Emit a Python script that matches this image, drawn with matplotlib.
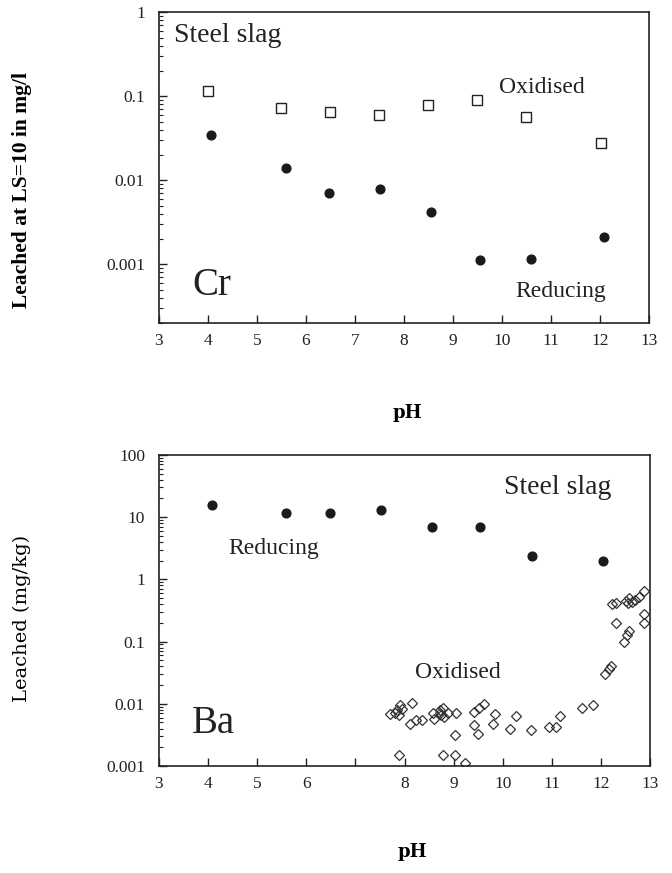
import matplotlib
matplotlib.use('Agg')
import matplotlib.pyplot as plt
import numpy as np
from matplotlib.ticker import LogLocator, NullFormatter

# Cr, steel slag
cr_ox_ph = [4.0, 5.5, 6.5, 7.5, 8.5, 9.5, 10.5, 12.03]
cr_ox = [0.116, 0.072, 0.065, 0.060, 0.079, 0.090, 0.056, 0.028]
cr_red_ph = [4.06, 5.6, 6.48, 7.52, 8.56, 9.56, 10.6, 12.09]
cr_red = [0.035, 0.0139, 0.0071, 0.0078, 0.0042, 0.00113, 0.00115, 0.0021]

# Ba, steel slag
ba_red_ph = [4.07, 5.58, 6.48, 7.51, 8.55, 9.54, 10.59, 12.04]
ba_red = [15.9, 11.6, 11.6, 12.9, 6.9, 6.9, 2.4, 1.95]
ba_ox_ph = [7.71, 7.8, 7.89, 7.91, 7.95, 7.85, 8.15, 8.11, 8.23, 8.35,
            8.57, 8.59, 8.73, 8.75, 8.8, 8.72, 8.78, 8.89, 9.04, 9.02,
            9.42, 9.52, 9.62, 9.42, 9.5, 9.84, 9.79, 10.15, 10.27, 10.57,
            10.93, 11.08, 11.16, 11.62, 11.84, 7.89, 8.79, 9.02, 9.22,
            12.08, 12.16, 12.2, 12.31, 12.46, 12.52, 12.56, 12.22, 12.3,
            12.5, 12.56, 12.55, 12.62, 12.68, 12.77, 12.88, 12.88, 12.88]
ba_ox = [0.0068, 0.0072, 0.0066, 0.0095, 0.0082, 0.0078, 0.0104, 0.0047, 0.0054, 0.0055,
         0.0072, 0.0057, 0.0079, 0.0066, 0.0062, 0.0072, 0.0085, 0.0072, 0.0072, 0.0032,
         0.0074, 0.0087, 0.0099, 0.0046, 0.0033, 0.0069, 0.0048, 0.0040, 0.0063, 0.0038,
         0.0042, 0.0042, 0.0063, 0.0085, 0.0095, 0.0015, 0.0015, 0.0015, 0.00113,
         0.030, 0.036, 0.040, 0.20, 0.10, 0.125, 0.145, 0.40, 0.42,
         0.45, 0.50, 0.42, 0.43, 0.47, 0.52, 0.65, 0.28, 0.20]

top_yticks = [0.001, 0.01, 0.1, 1]
top_ylabels = ['0.001', '0.01', '0.1', '1']
bot_yticks = [0.001, 0.01, 0.1, 1, 10, 100]
bot_ylabels = ['0.001', '0.01', '0.1', '1', '10', '100']
top_xticks = list(range(3, 14))
top_xlabels = [str(v) for v in top_xticks]
bot_xlabels = ['3', '4', '5', '6', '', '8', '9', '10', '11', '12', '13']

plt.rcParams['font.family'] = ['Liberation Serif', 'DejaVu Serif']


def style_axes(ax):
    ax.set_yscale('log')
    ax.set_xlim(3, 13)
    for s in ax.spines.values():
        s.set_linewidth(1.2)
        s.set_color('#222222')
    ax.tick_params(which='both', direction='in', top=False, right=False,
                   labelsize=12.5, colors='#222222')
    ax.tick_params(which='major', length=6, width=1)
    ax.tick_params(which='minor', length=3, width=0.8)
    ax.tick_params(axis='x', pad=7)
    ax.tick_params(axis='y', pad=10)
    ax.yaxis.set_minor_locator(LogLocator(base=10, subs=np.arange(2, 10)))
    ax.yaxis.set_minor_formatter(NullFormatter())


fig = plt.figure(figsize=(6.72, 8.73), dpi=100)

ax1 = fig.add_axes([0.2366, 0.630, 0.729, 0.356])
style_axes(ax1)
ax1.set_ylim(0.0002, 1)
ax1.plot(cr_ox_ph, cr_ox, 's', ms=6.5, mfc='white', mec='#222222', mew=1)
ax1.plot(cr_red_ph, cr_red, 'o', ms=6.3, color='#1a1a1a')
ax1.set_yticks(top_yticks)
ax1.set_yticklabels(top_ylabels)
ax1.set_xticks(top_xticks)
ax1.set_xticklabels(top_xlabels)
ax1.text(0.031, 0.925, 'Steel slag', transform=ax1.transAxes, fontsize=20,
         va='center', ha='left', color='#222222')
ax1.text(0.694, 0.757, 'Oxidised', transform=ax1.transAxes, fontsize=17,
         va='center', ha='left', color='#222222')
ax1.text(0.727, 0.102, 'Reducing', transform=ax1.transAxes, fontsize=17,
         va='center', ha='left', color='#222222')
ax1.text(0.069, 0.12, 'Cr', transform=ax1.transAxes, fontsize=28,
         va='center', ha='left', color='#222222')

ax2 = fig.add_axes([0.2366, 0.1226, 0.731, 0.3564])
style_axes(ax2)
ax2.set_ylim(0.001, 100)
ax2.plot(ba_red_ph, ba_red, 'o', ms=6.3, color='#1a1a1a')
ax2.plot(ba_ox_ph, ba_ox, 'D', ms=5.5, mfc='none', mec='#333333', mew=0.9)
ax2.set_yticks(bot_yticks)
ax2.set_yticklabels(bot_ylabels)
ax2.set_xticks(top_xticks)
ax2.set_xticklabels(bot_xlabels)
ax2.text(0.702, 0.894, 'Steel slag', transform=ax2.transAxes, fontsize=20,
         va='center', ha='left', color='#222222')
ax2.text(0.142, 0.698, 'Reducing', transform=ax2.transAxes, fontsize=17,
         va='center', ha='left', color='#222222')
ax2.text(0.521, 0.301, 'Oxidised', transform=ax2.transAxes, fontsize=17,
         va='center', ha='left', color='#222222')
ax2.text(0.067, 0.136, 'Ba', transform=ax2.transAxes, fontsize=28,
         va='center', ha='left', color='#222222')

fig.text(22 / 672, 1 - 190 / 873, 'Leached at LS=10 in mg/l', rotation=90,
         fontsize=15.5, fontweight='bold', ha='center', va='center')
fig.text(22 / 672, 1 - 618 / 873, 'Leached (mg/kg)', rotation=90,
         fontsize=14, family='DejaVu Serif', ha='center', va='center')
fig.text(407 / 672, 1 - 413 / 873, 'pH', fontsize=13, fontweight='bold',
         family='DejaVu Serif', ha='center', va='center')
fig.text(412 / 672, 1 - 852 / 873, 'pH', fontsize=13, fontweight='bold',
         family='DejaVu Serif', ha='center', va='center')

fig.savefig('out.png', dpi=100)
